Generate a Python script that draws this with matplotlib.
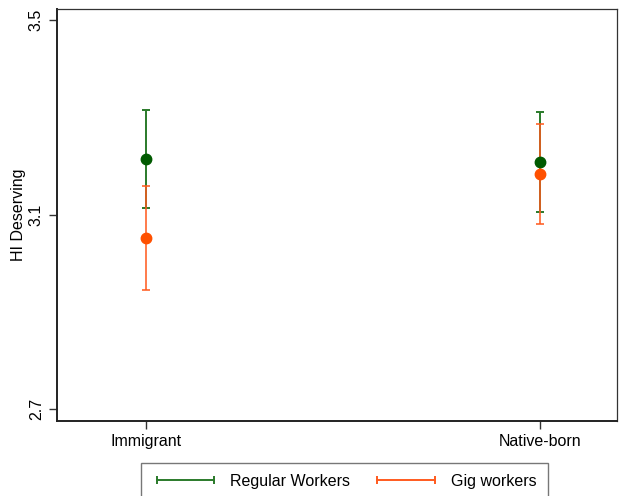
import matplotlib
matplotlib.use("Agg")
import matplotlib.pyplot as plt
from matplotlib.lines import Line2D

plt.rcParams["font.family"] = ["Liberation Sans", "DejaVu Sans"]

# Medias e intervalos de confianza por origen
grupos = ["Immigrant", "Native-born"]
posiciones = [1, 2]

regular_media = [3.215, 3.208]
regular_inf = [3.114, 3.106]
regular_sup = [3.316, 3.310]

gig_media = [3.052, 3.184]
gig_inf = [2.945, 3.080]
gig_sup = [3.158, 3.287]

ticks_y = [2.7, 3.1, 3.5]

verde_punto = "#005a00"
verde_barra = "#2a7a2a"
naranja_punto = "#ff5000"
naranja_barra = "#ff5a1e"

fig = plt.figure(figsize=(6.19, 4.96), dpi=100)
ax = fig.add_axes([0.092, 0.151, 0.905, 0.831])

for medias, inf, sup, c_barra, c_punto, alfa in [
    (regular_media, regular_inf, regular_sup, verde_barra, verde_punto, 1.0),
    (gig_media, gig_inf, gig_sup, naranja_barra, naranja_punto, 0.8),
]:
    err = [[m - lo for m, lo in zip(medias, inf)], [hi - m for m, hi in zip(medias, sup)]]
    ax.errorbar(posiciones, medias, yerr=err, fmt="none", ecolor=c_barra,
                elinewidth=1.4, capsize=3, capthick=1.4, alpha=alfa)
    ax.plot(posiciones, medias, "o", color=c_punto, markersize=7.5, zorder=3)

ax.set_xlim(0.774, 2.195)
ax.set_ylim(2.675, 3.523)
ax.set_xticks(posiciones)
ax.set_xticklabels(grupos, fontsize=11.5)
ax.set_yticks(ticks_y)
ax.set_yticklabels([f"{t:.1f}" for t in ticks_y], fontsize=11.5, rotation=90, va="center")
ax.tick_params(direction="out", length=6, width=1, color="#333333")
ax.set_ylabel("HI Deserving", fontsize=11.5, labelpad=2)

for lado in ["left", "bottom"]:
    ax.spines[lado].set_linewidth(1.4)
    ax.spines[lado].set_color("#222222")
for lado in ["top", "right"]:
    ax.spines[lado].set_linewidth(0.9)
    ax.spines[lado].set_color("#333333")

manijas = [
    Line2D([0], [0], color=verde_barra, lw=1.4, marker="|", markersize=6, markeredgewidth=1.4),
    Line2D([0], [0], color=naranja_barra, lw=1.4, marker="|", markersize=6, markeredgewidth=1.4),
]
# la leyenda baja más allá del borde inferior de la figura
leg = fig.legend(manijas, ["Regular Workers", "Gig workers"], loc="upper center",
                 bbox_to_anchor=(0.556, 0.083), ncol=2, fontsize=11.5, numpoints=2,
                 handlelength=4.2, columnspacing=1.4, frameon=True, fancybox=False,
                 borderpad=0.7, handletextpad=0.7)
leg.get_frame().set_edgecolor("#555555")
leg.get_frame().set_linewidth(1.0)

fig.savefig("out.png", dpi=100)
